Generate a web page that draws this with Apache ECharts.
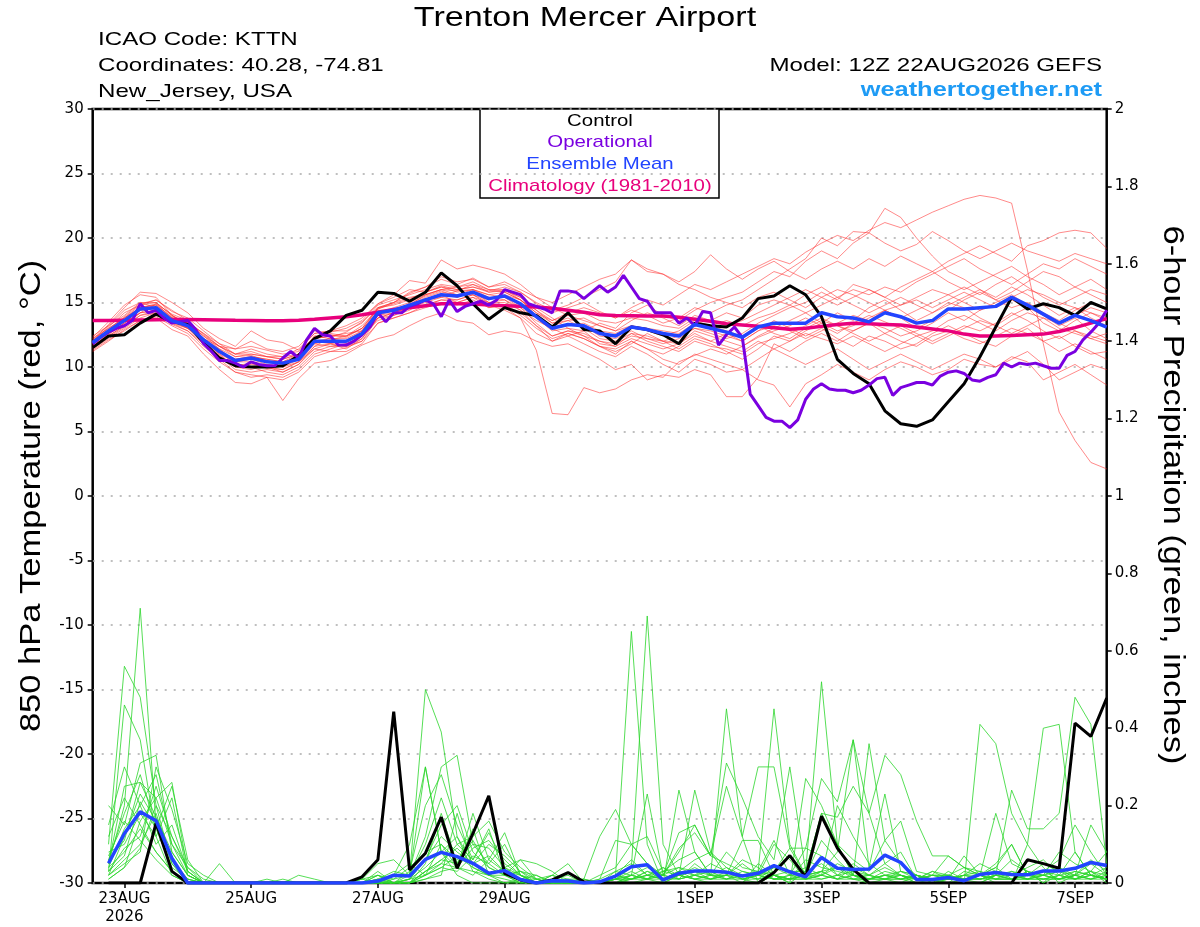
<!DOCTYPE html>
<html>
<head>
<meta charset="utf-8">
<title>Trenton Mercer Airport</title>
<script src="https://cdn.jsdelivr.net/npm/echarts@6/dist/echarts.min.js"></script>
<style>
html, body { margin: 0; padding: 0; background: #fff; }
#chart { width: 1200px; height: 927px; }
</style>
</head>
<body>
<div id="chart"></div>
<script>
// forecast hours from 12Z 22AUG2026
var tickHours = [12, 60, 108, 156, 228, 276, 324, 372];
var tickLabels = ['23AUG\n2026', '25AUG', '27AUG', '29AUG', '1SEP', '3SEP', '5SEP', '7SEP'];

// 850 hPa temperature, 6-hourly from hour 0
var control = [
    11.5, 12.4, 12.5, 13.4, 14.1, 13.5, 13.3, 11.9, 10.7, 10.1, 10.0, 10.0, 10.1,
    10.9, 12.2, 12.8, 14.0, 14.4, 15.8, 15.7, 15.1, 15.8, 17.3, 16.3, 14.9, 13.7,
    14.6, 14.2, 14.0, 13.1, 14.2, 12.9, 12.8, 11.8, 13.1, 12.9, 12.5, 11.8, 13.4,
    13.2, 13.1, 13.8, 15.3, 15.5, 16.3, 15.6, 13.9, 10.6, 9.5, 8.7, 6.6, 5.6,
    5.4, 5.9, 7.3, 8.7, 10.8, 13.1, 15.4, 14.5, 14.9, 14.6, 14.0, 15.0, 14.5
];
var ensMean = [
    11.9, 12.8, 13.6, 14.5, 14.6, 13.6, 13.2, 12.1, 11.2, 10.5, 10.7, 10.4, 10.3,
    10.6, 12.0, 12.0, 12.0, 12.6, 14.2, 14.4, 14.8, 15.2, 15.6, 15.5, 15.8, 15.3,
    15.5, 14.9, 13.9, 13.0, 13.3, 13.2, 12.6, 12.4, 13.1, 12.9, 12.6, 12.4, 13.3,
    13.0, 12.7, 12.3, 13.1, 13.4, 13.4, 13.4, 14.2, 13.9, 13.8, 13.5, 14.2, 13.9,
    13.4, 13.6, 14.5, 14.5, 14.6, 14.7, 15.4, 14.8, 14.1, 13.4, 14.0, 13.6, 13.1
];
var climatology = [
    13.6, 13.6, 13.62, 13.64, 13.66, 13.68, 13.68, 13.67, 13.65, 13.62, 13.6, 13.58, 13.58,
    13.62, 13.7, 13.8, 13.9, 14.05, 14.25, 14.45, 14.6, 14.75, 14.9, 14.9, 14.88, 14.8,
    14.75, 14.7, 14.65, 14.55, 14.4, 14.25, 14.05, 14.0, 13.98, 13.96, 13.95, 13.85, 13.7,
    13.55, 13.35, 13.25, 13.15, 13.05, 12.92, 13.0, 13.15, 13.3, 13.4, 13.35, 13.3, 13.25,
    13.1, 12.95, 12.8, 12.55, 12.4, 12.4, 12.45, 12.5, 12.55, 12.75, 13.05, 13.4, 13.75
];
// operational run, 3-hourly from hour 0
var operational = [
    11.8, 12.3, 12.7, 13.0, 13.2, 13.6, 14.9, 14.2, 14.4, 13.8, 13.4, 13.5, 13.6, 12.9, 11.8, 11.2,
    10.5, 10.5, 10.3, 10.0, 10.4, 10.2, 10.1, 10.1, 10.7, 11.2, 10.7, 12.1, 13.0, 12.5, 12.4, 11.7,
    11.7, 12.0, 12.5, 13.1, 14.2, 13.5, 14.2, 14.2, 14.7, 14.9, 15.2, 14.9, 13.9, 15.2, 14.3, 14.7,
    14.9, 15.1, 14.8, 15.2, 16.0, 15.8, 15.6, 14.9, 14.7, 14.5, 14.2, 15.9, 15.9, 15.8, 15.3, 15.8,
    16.3, 15.8, 16.2, 17.1, 16.2, 15.3, 15.1, 14.2, 14.2, 14.2, 13.4, 13.8, 13.2, 14.3, 14.2, 11.7,
    12.5, 13.1, 12.3, 7.9, 7.0, 6.1, 5.8, 5.8, 5.3, 5.9, 7.5, 8.3, 8.7, 8.3, 8.2, 8.2,
    8.0, 8.2, 8.6, 9.1, 9.2, 7.8, 8.4, 8.6, 8.8, 8.8, 8.6, 9.3, 9.6, 9.7, 9.5, 9.0,
    8.9, 9.2, 9.4, 10.3, 10.0, 10.3, 10.2, 10.3, 10.1, 9.9, 9.9, 10.9, 11.2, 12.1, 12.7, 13.4,
    14.4
];

// 6-hour precipitation (inches), 6-hourly from hour 6
var controlPrecip = [
    0, 0, 0, 0.155, 0.03, 0, 0, 0, 0, 0, 0, 0, 0, 0, 0, 0,
    0.016, 0.06, 0.443, 0.034, 0.077, 0.17, 0.038, 0.128, 0.225, 0.025, 0.008, 0, 0.008, 0.027, 0.003, 0,
    0, 0, 0, 0, 0, 0, 0, 0, 0, 0, 0.027, 0.071, 0.015, 0.173, 0.09, 0.035,
    0, 0, 0, 0, 0, 0, 0, 0, 0, 0, 0.06, 0.05, 0.038, 0.413, 0.379, 0.478
];
var meanPrecip = [
    0.051, 0.128, 0.184, 0.161, 0.064, 0, 0, 0, 0, 0, 0, 0, 0, 0, 0, 0,
    0, 0.005, 0.02, 0.018, 0.061, 0.079, 0.068, 0.051, 0.025, 0.032, 0.009, 0, 0.006, 0.005, 0, 0.003,
    0.018, 0.042, 0.047, 0.008, 0.025, 0.031, 0.031, 0.028, 0.018, 0.025, 0.045, 0.029, 0.016, 0.066, 0.038, 0.035,
    0.036, 0.072, 0.053, 0.009, 0.009, 0.014, 0.006, 0.022, 0.027, 0.022, 0.021, 0.031, 0.031, 0.038, 0.053, 0.045
];

// ensemble members, temperature (6-hourly from hour 0)
var memberTemps = [
    [12.3, 13.5, 14.8, 15.6, 15.4, 14.0, 13.3, 12.0, 10.9, 10.1, 10.3, 9.9, 9.8,
     10.4, 11.6, 12.3, 12.7, 13.5, 14.6, 15.0, 15.7, 16.2, 16.8, 16.4, 16.9, 16.2,
     16.4, 15.8, 14.9, 14.2, 14.6, 15.0, 14.3, 13.8, 14.6, 15.2, 14.8, 15.6, 16.4,
     16.0, 16.6, 17.2, 17.8, 18.4, 18.0, 18.9, 19.6, 20.2, 19.8, 20.6, 21.2, 20.8,
     21.4, 22.0, 22.5, 23.0, 23.3, 23.1, 22.7, 17.5, 11.8, 6.5, 4.3, 2.6, 2.1],
    [11.6, 12.5, 13.4, 14.2, 14.9, 14.1, 13.6, 12.5, 11.6, 11.0, 11.2, 10.8, 10.6,
     11.0, 12.4, 12.5, 12.3, 13.0, 14.5, 14.9, 15.3, 15.8, 16.2, 15.8, 16.0, 15.4,
     15.2, 14.4, 13.6, 13.0, 12.4, 12.8, 13.4, 13.0, 14.2, 14.8, 14.0, 13.6, 14.4,
     15.0, 15.4, 15.8, 16.6, 17.4, 17.0, 18.2, 19.0, 18.4, 19.6, 20.4, 22.3, 21.6,
     20.0, 18.6, 17.4, 16.8, 16.0, 15.2, 15.8, 16.6, 17.4, 17.0, 16.2, 15.6, 15.0],
    [11.4, 12.2, 13.0, 13.8, 14.2, 13.5, 13.0, 12.2, 11.4, 10.8, 10.9, 10.5, 10.2,
     10.8, 11.8, 12.1, 12.4, 13.0, 14.0, 14.4, 14.9, 15.5, 15.9, 15.4, 15.9, 15.0,
     14.6, 13.8, 11.3, 6.4, 6.3, 8.4, 8.0, 8.3, 9.0, 9.4, 9.2, 10.4, 10.9,
     11.4, 11.0, 11.6, 12.3, 12.8, 13.2, 13.8, 13.2, 12.6, 13.4, 14.0, 13.5, 13.0,
     12.4, 12.8, 13.6, 14.0, 13.4, 12.8, 13.6, 14.2, 13.8, 13.0, 12.6, 12.2, 11.8],
    [11.2, 12.0, 12.9, 13.6, 13.9, 13.2, 12.6, 11.4, 10.4, 9.6, 9.4, 9.2, 9.0,
     9.6, 10.8, 11.2, 11.5, 12.0, 13.4, 13.8, 14.2, 14.6, 15.0, 14.8, 15.2, 14.6,
     14.8, 14.2, 13.2, 12.0, 12.4, 11.8, 11.2, 10.8, 11.6, 11.0, 10.2, 9.6, 10.6,
     10.2, 9.6, 9.8, 9.0, 8.6, 6.9, 8.7, 9.4, 10.2, 9.6, 9.0, 9.8, 10.4,
     10.0, 9.4, 9.8, 10.6, 10.2, 10.0, 10.8, 10.4, 9.0, 9.6, 10.2, 9.4, 8.6],
    [12.0, 13.3, 14.6, 15.8, 15.7, 15.0, 14.2, 13.0, 12.2, 11.6, 12.8, 12.1, 11.9,
     11.3, 12.6, 12.8, 13.2, 13.8, 14.9, 15.6, 16.7, 16.5, 18.3, 17.6, 17.9, 17.6,
     17.2, 16.4, 15.4, 14.6, 14.0, 13.6, 13.2, 12.8, 13.6, 14.2, 13.8, 13.2, 14.0,
     13.6, 14.2, 13.8, 14.8, 15.2, 14.8, 15.6, 16.2, 15.4, 16.0, 15.6, 16.2, 15.8,
     16.6, 17.2, 17.8, 18.4, 17.6, 17.0, 16.4, 17.2, 18.0, 17.6, 18.4, 17.8, 17.2],
    [11.8, 12.9, 13.9, 14.9, 15.2, 14.4, 13.6, 12.2, 11.0, 10.0, 9.8, 10.2, 10.0,
     10.4, 11.4, 11.8, 11.6, 12.2, 13.8, 14.2, 14.6, 15.0, 15.4, 15.9, 16.4, 15.8,
     15.9, 15.4, 14.6, 13.8, 13.0, 12.4, 11.6, 11.2, 11.8, 12.6, 12.0, 11.4, 12.2,
     11.8, 11.2, 10.6, 11.4, 12.4, 12.0, 12.8, 13.4, 14.2, 13.6, 14.6, 15.2, 14.4,
     13.6, 14.2, 15.0, 14.6, 13.8, 13.2, 14.0, 14.6, 13.4, 12.8, 13.6, 14.2, 13.6],
    [12.1, 13.0, 13.8, 14.6, 14.8, 13.9, 13.5, 12.6, 11.8, 11.4, 11.6, 11.3, 11.0,
     11.2, 12.3, 12.7, 13.0, 13.6, 14.9, 15.4, 16.0, 15.8, 16.3, 16.0, 16.2, 15.9,
     16.2, 15.8, 15.0, 14.4, 14.8, 15.4, 16.0, 16.6, 18.3, 17.4, 17.2, 16.6, 17.4,
     18.7, 17.6, 16.8, 17.6, 18.2, 17.4, 16.8, 17.6, 18.2, 17.6, 18.4, 17.8, 18.6,
     18.0, 17.4, 18.2, 18.8, 19.4, 18.8, 18.2, 19.4, 19.8, 20.4, 20.6, 20.4, 19.2],
    [11.5, 12.4, 13.2, 14.0, 14.2, 13.3, 12.8, 11.6, 10.6, 9.6, 9.2, 9.4, 9.2,
     9.8, 11.0, 11.4, 11.8, 12.4, 13.6, 14.0, 14.4, 15.2, 15.4, 15.2, 15.6, 14.8,
     14.4, 13.8, 12.6, 12.0, 12.6, 12.2, 11.6, 11.0, 12.0, 11.4, 11.0, 11.6, 12.4,
     12.0, 12.6, 12.0, 12.8, 13.6, 13.0, 12.4, 13.0, 12.2, 11.6, 12.4, 12.0, 11.4,
     11.8, 12.6, 13.2, 12.6, 12.0, 11.6, 12.4, 13.0, 12.0, 11.2, 11.8, 11.2, 10.6],
    [12.4, 13.2, 14.0, 15.0, 15.0, 14.0, 13.2, 12.0, 11.2, 10.6, 10.8, 10.6, 10.4,
     11.0, 12.2, 12.4, 12.6, 12.8, 14.4, 14.4, 14.8, 15.6, 16.0, 16.2, 16.6, 16.0,
     16.0, 15.2, 14.4, 13.4, 13.8, 13.2, 12.4, 12.2, 12.8, 12.2, 12.0, 12.4, 13.0,
     12.6, 12.2, 12.6, 13.4, 14.0, 14.6, 15.0, 15.8, 15.2, 16.4, 16.0, 15.4, 16.2,
     16.8, 17.4, 16.6, 16.0, 16.6, 17.2, 17.8, 17.0, 16.4, 15.6, 16.2, 16.8, 16.0],
    [11.3, 12.1, 12.8, 13.6, 13.8, 12.9, 12.4, 11.0, 9.8, 8.8, 8.7, 9.2, 7.4,
     9.1, 10.3, 10.5, 11.0, 11.7, 12.2, 12.5, 13.2, 13.8, 14.2, 13.6, 13.4, 12.5,
     12.8, 12.6, 12.0, 11.6, 11.8, 11.2, 10.6, 9.8, 10.2, 9.0, 9.4, 9.2, 9.8,
     9.4, 7.7, 7.7, 9.2, 11.8, 11.2, 12.0, 12.6, 12.0, 12.8, 13.4, 12.6, 12.0,
     11.6, 12.4, 12.8, 12.2, 11.8, 12.4, 13.0, 12.6, 12.0, 12.4, 11.6, 11.0, 11.2],
    [12.0, 13.1, 14.2, 14.8, 15.2, 14.3, 13.8, 12.8, 11.8, 11.0, 11.0, 10.8, 10.8,
     11.0, 12.4, 12.2, 12.0, 12.8, 14.6, 15.0, 15.4, 15.6, 16.0, 15.9, 16.0, 15.6,
     15.4, 14.8, 13.8, 12.8, 13.0, 12.8, 11.8, 11.6, 12.6, 12.0, 11.6, 11.2, 12.0,
     11.6, 11.4, 11.0, 11.8, 12.2, 12.6, 13.2, 13.8, 13.2, 12.8, 13.4, 13.0, 12.4,
     12.8, 13.4, 14.2, 13.6, 14.4, 15.0, 15.6, 14.8, 14.0, 13.2, 13.8, 12.8, 12.2],
    [11.7, 12.7, 13.6, 14.6, 14.9, 13.8, 13.4, 12.4, 11.4, 10.4, 10.6, 10.2, 10.0,
     10.6, 12.0, 11.8, 11.4, 12.2, 14.0, 14.2, 14.6, 14.8, 15.2, 15.2, 15.6, 15.2,
     15.6, 15.2, 14.2, 13.4, 13.6, 13.8, 13.2, 12.8, 13.2, 12.8, 12.4, 12.8, 13.6,
     13.2, 12.8, 12.4, 13.2, 12.6, 12.2, 13.0, 13.6, 13.2, 12.6, 12.0, 12.6, 13.2,
     12.6, 12.0, 12.6, 13.2, 12.8, 13.4, 14.2, 13.6, 12.8, 12.2, 12.8, 12.4, 12.0],
    [12.2, 13.2, 14.4, 15.0, 14.6, 13.6, 13.0, 12.2, 11.6, 11.4, 12.0, 11.4, 11.2,
     11.6, 12.8, 12.6, 12.4, 13.2, 14.5, 15.0, 15.8, 16.2, 17.0, 16.6, 16.8, 16.2,
     16.6, 16.0, 15.4, 15.0, 15.6, 16.2, 16.8, 17.2, 18.3, 17.6, 17.2, 16.4, 16.0,
     15.4, 15.0, 14.6, 15.4, 15.8, 15.2, 14.6, 15.4, 16.0, 15.6, 15.0, 14.4, 14.8,
     15.4, 16.0, 15.6, 15.0, 14.4, 14.8, 15.4, 16.0, 15.6, 15.0, 14.6, 14.2, 13.8],
    [11.6, 12.6, 13.4, 14.2, 14.4, 13.4, 13.0, 12.0, 11.0, 10.4, 10.4, 10.0, 9.8,
     10.4, 11.8, 11.6, 11.6, 12.0, 13.8, 14.0, 14.6, 15.2, 15.6, 15.0, 15.4, 14.6,
     14.8, 14.0, 13.0, 12.2, 12.6, 12.2, 11.6, 11.4, 12.0, 11.4, 10.6, 10.2, 11.0,
     10.6, 10.2, 9.8, 10.6, 11.4, 12.0, 12.6, 12.2, 11.8, 12.4, 11.8, 11.2, 11.8,
     12.4, 11.8, 12.4, 13.0, 13.6, 13.2, 12.6, 13.2, 13.8, 13.4, 12.8, 12.2, 12.6],
    [12.0, 12.8, 13.6, 14.4, 14.6, 13.8, 13.4, 12.6, 11.6, 11.0, 11.4, 11.0, 10.8,
     11.4, 12.6, 12.8, 12.8, 13.4, 14.8, 15.2, 15.6, 16.0, 16.4, 16.2, 16.4, 16.0,
     15.8, 15.2, 14.2, 13.6, 14.2, 14.6, 14.2, 13.8, 14.4, 14.0, 13.4, 13.8, 14.6,
     14.2, 14.8, 15.2, 16.0, 16.8, 17.6, 18.4, 20.0, 19.4, 20.5, 20.4, 19.6, 19.0,
     19.5, 20.5, 19.8, 19.0, 18.4, 19.0, 19.6, 19.0, 18.6, 18.2, 18.8, 18.4, 18.0],
    [11.9, 12.8, 13.8, 14.8, 15.0, 14.0, 13.4, 12.2, 11.2, 10.2, 10.0, 9.6, 9.4,
     10.0, 11.2, 11.6, 11.8, 12.4, 13.8, 14.2, 14.8, 15.4, 15.8, 15.6, 16.0, 15.6,
     15.8, 15.2, 14.0, 13.2, 13.6, 13.0, 12.2, 12.0, 12.6, 12.4, 12.0, 11.8, 12.8,
     12.4, 12.0, 11.6, 12.4, 13.0, 13.6, 14.2, 13.4, 12.8, 13.2, 13.8, 14.4, 13.8,
     13.0, 13.6, 14.4, 15.2, 15.8, 15.2, 14.6, 15.0, 14.2, 13.6, 14.4, 15.0, 14.4],
    [11.5, 12.3, 13.1, 14.0, 14.4, 13.6, 13.0, 11.8, 10.8, 10.0, 10.2, 10.0, 9.6,
     10.2, 11.6, 11.8, 12.0, 12.6, 14.2, 14.6, 15.0, 15.6, 16.0, 15.6, 15.6, 15.0,
     15.2, 14.6, 13.4, 12.4, 12.8, 12.6, 12.0, 11.8, 12.4, 12.2, 11.8, 12.2, 13.0,
     12.8, 12.4, 12.0, 12.8, 13.2, 12.8, 12.2, 12.8, 13.4, 14.0, 13.6, 14.4, 13.8,
     14.4, 15.0, 15.6, 16.2, 15.6, 16.4, 17.0, 16.2, 15.4, 14.8, 15.4, 16.0, 15.6],
    [11.8, 12.6, 13.4, 14.4, 14.6, 13.6, 13.2, 12.2, 11.2, 10.6, 10.8, 10.6, 10.4,
     10.8, 12.0, 12.2, 12.2, 12.8, 14.2, 14.4, 14.8, 15.2, 15.6, 15.4, 15.8, 15.4,
     15.4, 14.6, 13.8, 13.0, 13.2, 13.4, 12.8, 12.6, 13.2, 13.0, 12.8, 12.6, 13.4,
     13.2, 13.6, 13.2, 13.8, 14.2, 14.8, 14.2, 14.8, 15.4, 14.8, 14.2, 14.8, 15.4,
     14.8, 14.2, 14.8, 15.4, 16.0, 15.4, 16.2, 15.6, 14.8, 14.0, 14.6, 13.8, 13.2],
    [11.6, 12.4, 13.2, 14.2, 14.4, 13.4, 12.8, 11.8, 10.8, 9.8, 9.6, 9.8, 9.6,
     10.2, 11.4, 11.2, 11.2, 11.8, 13.4, 13.8, 14.2, 14.8, 15.2, 15.0, 15.4, 15.0,
     15.0, 14.4, 13.2, 12.4, 12.8, 12.4, 12.0, 11.6, 12.2, 11.8, 11.4, 11.8, 12.6,
     12.0, 11.6, 11.2, 12.0, 11.4, 10.8, 10.2, 10.8, 11.4, 10.6, 9.8, 10.4, 11.0,
     10.4, 9.8, 10.4, 11.0, 10.6, 10.0, 10.6, 11.2, 10.2, 9.0, 9.6, 10.2, 9.8],
    [12.2, 13.0, 13.8, 14.6, 14.8, 13.8, 13.4, 12.4, 11.6, 10.8, 11.0, 10.8, 10.6,
     11.0, 12.2, 12.4, 12.4, 13.0, 14.6, 14.8, 15.2, 15.8, 16.2, 16.0, 16.2, 15.8,
     16.0, 15.4, 14.4, 13.6, 14.0, 14.2, 13.6, 13.4, 13.8, 13.6, 13.2, 13.0, 13.8,
     13.6, 13.2, 13.6, 14.2, 14.8, 15.4, 16.0, 15.4, 14.8, 15.4, 16.0, 15.4, 14.8,
     15.2, 14.6, 15.2, 15.8, 15.2, 14.6, 15.2, 14.6, 14.0, 13.4, 14.0, 14.6, 14.2]
];

// ensemble members, 6-hour precipitation (6-hourly from hour 6)
var memberPrecip = [
    [.05, .20, .71, .15, .03, 0, 0, 0, 0, 0, 0, 0, 0, 0, 0, 0,
     0, 0, .02, .10, .30, .08, .02, 0, 0, 0, .01, 0, 0, 0, 0, 0,
     .02, .65, .10, 0, .02, .01, 0, 0, 0, .05, .02, 0, .03, .52, .10, .02,
     0, 0, 0, 0, 0, 0, 0, .41, .36, .18, .10, .04, 0, .02, .05, .02],
    [.10, .56, .48, .20, .05, .01, 0, 0, 0, 0, 0, 0, 0, 0, 0, 0,
     0, .01, .03, .02, .50, .39, .12, .05, .02, 0, 0, 0, .01, .02, 0, 0,
     .01, .04, .69, .10, .02, .24, .08, .02, 0, .03, .45, .10, .02, .03, .08, .37,
     .18, .05, .02, 0, 0, .01, .07, .02, 0, 0, .10, .40, .41, .08, .02, .01],
    [.03, .46, .37, .12, .02, 0, 0, 0, 0, 0, 0, 0, 0, 0, 0, 0,
     .01, .05, .06, .02, .12, .30, .33, .10, .05, .02, .06, .01, 0, 0, .01, .12,
     .19, .10, .05, 0, .24, .08, .02, .45, .12, 0, .02, 0, .27, .20, .10, .02,
     .36, .11, .05, .02, 0, 0, 0, 0, .02, .24, .14, .14, .18, .48, .41, .05],
    [.20, .15, .31, .33, .08, .02, 0, .05, 0, 0, 0, 0, 0, 0, 0, 0,
     0, .02, 0, .02, .30, .08, .04, .18, .06, .13, .02, 0, .02, .05, 0, 0,
     .03, .02, .23, .02, .13, .15, .07, .31, .22, .12, .06, .30, .03, .18, .17, .25,
     .18, .33, .28, .16, .07, .07, .04, .02, .04, .10, .02, .02, .08, .05, .03, 0],
    [.05, .25, .26, .22, .26, .03, 0, 0, 0, 0, .01, 0, 0, 0, 0, 0,
     0, .01, 0, 0, .05, .18, .05, .14, .02, .04, .06, .05, .03, 0, 0, .01,
     .11, .10, .05, .02, .08, .15, .07, .25, .12, .30, .30, .09, .09, .27, .21, .37,
     .04, .23, .03, .02, .01, 0, .03, .02, .18, .05, .03, 0, .04, .02, .15, .08],
    [.15, .30, .20, .28, .10, .04, 0, 0, 0, 0, 0, 0, .02, .01, 0, 0,
     0, .03, 0, .03, .20, .28, .15, .06, .14, .02, .03, .02, 0, 0, 0, .02,
     .04, .10, .12, .03, .06, .08, .02, .02, .11, .11, .02, .03, .03, .18, .10, .06,
     .03, .11, .16, .03, .02, .02, .04, .02, .05, .10, .02, .03, .06, .15, .08, .02],
    [.02, .12, .23, .16, .05, 0, 0, 0, 0, 0, 0, 0, 0, 0, 0, 0,
     0, 0, .01, .02, .10, .22, .10, .06, .13, .05, .02, 0, .02, .01, .01, 0,
     0, .02, .04, .02, .09, .13, .07, .05, .03, .02, .10, .06, .01, .02, .20, .12,
     .05, .02, .03, .01, .02, .07, .04, .03, .02, .06, .03, 0, .02, .08, .02, .01],
    [.08, .10, .18, .12, .22, .02, 0, 0, 0, 0, 0, 0, 0, 0, 0, 0,
     0, 0, 0, .01, .06, .15, .20, .08, .04, .02, 0, .01, 0, 0, 0, 0,
     .02, .06, .02, .03, .04, .03, .02, .08, .04, .03, .11, .02, .09, .07, .02, .05,
     .02, .05, .08, .01, .02, .02, .01, 0, .02, .03, .02, .03, .02, .01, .03, .08],
    [.04, .08, .14, .08, .03, 0, 0, 0, 0, 0, 0, 0, 0, 0, 0, 0,
     .01, .02, 0, 0, .03, .05, .10, .12, .16, .08, .04, .01, 0, 0, .01, 0,
     .01, .03, .01, 0, .02, .04, .02, .02, .05, .02, .03, .09, .02, .03, .04, .02,
     .02, .04, .02, 0, 0, .03, .01, .02, .03, .02, .01, .02, .03, .02, .06, .03],
    [.06, .18, .28, .14, .04, .01, 0, 0, 0, 0, 0, 0, 0, 0, 0, 0,
     0, .02, .01, .04, .08, .10, .06, .10, .09, .04, .02, .01, .02, 0, 0, 0,
     .02, .01, .03, .01, .03, .06, .08, .04, .02, .01, .04, .02, .02, .11, .06, .02,
     .01, .03, .02, .01, .03, .01, .02, .05, .03, .02, .04, .06, .02, .03, .02, .01],
    [.02, .06, .10, .18, .06, .01, 0, 0, 0, 0, 0, 0, 0, 0, 0, 0,
     0, 0, 0, .01, .04, .08, .12, .03, .01, 0, 0, 0, 0, 0, 0, 0,
     0, .01, .02, .04, .01, .02, .05, .03, .01, 0, .02, .01, .03, .05, .02, .01,
     0, .01, .03, .02, 0, .01, .02, .03, .01, .01, .02, .05, .03, .01, .02, .04],
    [.01, .04, .16, .22, .10, .02, 0, 0, 0, 0, 0, .01, 0, 0, 0, 0,
     0, 0, 0, 0, .02, .05, .04, .09, .11, .06, .02, 0, 0, 0, 0, 0,
     .01, 0, .01, .02, .04, .02, .01, .02, .06, .04, .01, .02, .04, .02, .05, .03,
     .02, .01, 0, .02, .01, 0, .01, .02, .04, .01, .02, .01, .01, .03, .02, .01],
    [.03, .09, .12, .25, .12, .04, .01, 0, 0, 0, 0, 0, 0, 0, 0, 0,
     0, 0, .02, .05, .02, .04, .07, .04, .02, .01, 0, 0, 0, 0, 0, .01,
     .03, .05, .02, .01, .03, .01, .02, .01, .03, .02, .04, .03, .01, .03, .01, .02,
     .01, .02, .01, 0, .01, .02, .01, .01, .02, .02, .01, .03, .01, .02, .01, .02],
    [.04, .14, .20, .10, .15, .03, 0, 0, 0, 0, 0, 0, 0, 0, 0, 0,
     0, .01, 0, 0, .03, .06, .05, .11, .04, .02, .03, 0, 0, 0, 0, 0,
     0, .01, .03, .02, .01, .05, .02, .04, .01, .02, .01, .01, .06, .04, .03, .02,
     .01, .02, .02, .01, .01, .01, .02, .01, .02, .01, .03, .02, .04, .01, .03, .02],
    [.12, .22, .15, .08, .03, 0, 0, 0, 0, 0, 0, 0, 0, 0, 0, 0,
     .01, 0, 0, .01, .06, .12, .08, .05, .10, .07, .03, .01, 0, 0, 0, 0,
     0, .02, .01, .04, .02, .03, .01, .02, .02, .03, .02, .01, .02, .03, .01, .04,
     .02, .01, .02, .01, .03, .02, .01, .02, .01, .03, .01, .02, .01, .02, .01, .03],
    [.02, .05, .08, .30, .19, .05, .02, 0, 0, 0, 0, 0, 0, 0, 0, 0,
     0, 0, 0, 0, .01, .03, .04, .02, .06, .03, .01, .02, 0, 0, 0, 0,
     .01, .01, .02, .01, .01, .02, .03, .01, .02, .01, .02, .01, .01, .02, .04, .01,
     .01, .02, .01, .02, .01, .01, .02, .01, .01, .02, .01, .01, .02, .01, .02, .01],
    [.06, .11, .26, .17, .08, .02, 0, 0, 0, 0, 0, 0, 0, 0, 0, 0,
     0, 0, 0, 0, .01, .02, .18, .04, .02, .04, .01, 0, 0, 0, 0, 0,
     .01, .02, .01, .03, .02, .01, .01, .03, .01, .02, .01, .02, .01, .01, .02, .03,
     .01, .01, .02, .01, .02, .01, .01, .01, .02, .01, .03, .02, .01, .02, .01, .02],
    [.03, .07, .21, .14, .25, .06, 0, 0, 0, 0, 0, 0, 0, 0, 0, 0,
     0, 0, 0, .01, .02, .10, .04, .03, .02, .02, 0, 0, 0, 0, 0, 0,
     .02, .01, .02, .01, .03, .02, .01, .01, .02, .03, .01, .01, .02, .02, .01, .01,
     .02, .01, .01, .02, .01, .01, .02, .02, .01, .01, .02, .01, .01, .02, .03, .01],
    [.07, .16, .11, .06, .02, 0, 0, 0, 0, 0, 0, 0, 0, 0, 0, 0,
     0, 0, 0, 0, .03, .06, .09, .05, .07, .03, .02, 0, 0, .01, 0, 0,
     .01, .02, .01, .01, .02, .01, .02, .01, .01, .02, .01, .01, .02, .01, .02, .01,
     .01, .01, .01, .02, .01, .01, .01, .02, .01, .01, .01, .02, .01, .01, .02, .01],
    [.01, .04, .09, .20, .12, .03, 0, 0, 0, 0, 0, 0, 0, 0, 0, 0,
     0, 0, 0, 0, .02, .04, .03, .07, .05, .10, .02, 0, 0, 0, 0, 0,
     .01, .01, .01, .02, .01, .02, .01, .02, .01, .01, .02, .01, .01, .02, .01, .02,
     .01, .02, .01, .01, .02, .01, .01, .01, .02, .01, .01, .01, .02, .01, .01, .01]
];

var FONT = 'DejaVu Sans';
var HEAD_FONT = 'Liberation Sans';

function toPoints(values, step, start) {
    return values.map(function (v, i) {
        return [start + i * step, v];
    });
}

function lineSeries(data, axis, color, width) {
    return {
        type: 'line',
        data: data,
        yAxisIndex: axis,
        symbol: 'none',
        silent: true,
        animation: false,
        lineStyle: { color: color, width: width }
    };
}

// the original lettering is a wide Helvetica, so stretch it a little
function headerText(text, x, y, align, size, stretch, color, weight, rotation) {
    return {
        type: 'text',
        x: x,
        y: y,
        z: 100,
        scaleX: stretch,
        rotation: rotation || 0,
        style: {
            text: text,
            fontFamily: HEAD_FONT,
            fontSize: size,
            fontWeight: weight || 'normal',
            fill: color || '#000',
            align: align,
            verticalAlign: 'middle',
            textAlign: align,
            textVerticalAlign: 'middle'
        }
    };
}

var series = [];
memberTemps.forEach(function (m) {
    series.push(lineSeries(toPoints(m, 6, 0), 0, 'rgba(255,45,45,0.7)', 0.8));
});
memberPrecip.forEach(function (m) {
    series.push(lineSeries(toPoints(m, 6, 6), 1, '#2bd62b', 0.8));
});
series.push(lineSeries(toPoints(climatology, 6, 0), 0, '#e8007c', 3.5));
series.push(lineSeries(toPoints(control, 6, 0), 0, '#000000', 3));
series.push(lineSeries(toPoints(operational, 3, 0), 0, '#7a00e0', 3));
series.push(lineSeries(toPoints(ensMean, 6, 0), 0, '#2244ff', 3.5));
series.push(lineSeries(toPoints(controlPrecip, 6, 6), 1, '#000000', 3));
series.push(lineSeries(toPoints(meanPrecip, 6, 6), 1, '#2244ff', 3.5));

var legendBox = {
    type: 'group',
    z: 100,
    children: [
        {
            type: 'rect',
            shape: { x: 480, y: 109, width: 239, height: 89 },
            style: { fill: '#fff', stroke: '#000', lineWidth: 1.5 }
        },
        headerText('Control', 600, 121, 'center', 17, 1.2, '#000'),
        headerText('Operational', 600, 142, 'center', 17, 1.2, '#7a00e0'),
        headerText('Ensemble Mean', 600, 164, 'center', 17, 1.2, '#2244ff'),
        headerText('Climatology (1981-2010)', 600, 186, 'center', 17, 1.2, '#e8007c')
    ]
};

var chart = echarts.init(document.getElementById('chart'), null, { renderer: 'canvas' });

chart.setOption({
    animation: false,
    backgroundColor: '#fff',
    grid: {
        left: 92.7,
        right: 93.3,
        top: 109,
        bottom: 44,
        show: true,
        borderColor: '#000',
        borderWidth: 2.5,
        backgroundColor: 'transparent'
    },
    xAxis: {
        type: 'value',
        min: 0,
        max: 384,
        axisLine: { show: false, onZero: false },
        splitLine: { show: false },
        axisTick: {
            show: true,
            customValues: tickHours,
            length: 5,
            lineStyle: { color: '#000', width: 1.5 }
        },
        axisLabel: {
            customValues: tickHours,
            margin: 7,
            fontFamily: FONT,
            fontSize: 15,
            lineHeight: 18,
            color: '#000',
            formatter: function (v) {
                var k = tickHours.indexOf(v);
                return k < 0 ? '' : tickLabels[k];
            }
        }
    },
    yAxis: [
        {
            type: 'value',
            position: 'left',
            min: -30,
            max: 30,
            interval: 5,
            axisLine: { show: false },
            axisTick: { show: true, length: 5, lineStyle: { color: '#000', width: 1.5 } },
            axisLabel: { margin: 9, fontFamily: FONT, fontSize: 15, color: '#000' },
            splitLine: { show: true, lineStyle: { color: '#aaaaaa', width: 1.5, type: [2, 7] } }
        },
        {
            type: 'value',
            position: 'right',
            min: 0,
            max: 2,
            interval: 0.2,
            axisLine: { show: false },
            axisTick: { show: true, length: 5, lineStyle: { color: '#000', width: 1.5 } },
            axisLabel: {
                margin: 8,
                fontFamily: FONT,
                fontSize: 15,
                color: '#000',
                formatter: function (v) { return String(+v.toFixed(1)); }
            },
            splitLine: { show: false }
        }
    ],
    graphic: [
        headerText('Trenton Mercer Airport', 585, 18, 'center', 28, 1.22),
        headerText('ICAO Code: KTTN', 98, 40, 'left', 19, 1.27),
        headerText('Coordinates: 40.28, -74.81', 98, 66, 'left', 19, 1.27),
        headerText('New_Jersey, USA', 98, 92, 'left', 19, 1.27),
        headerText('Model: 12Z 22AUG2026 GEFS', 1102, 66, 'right', 19, 1.27),
        headerText('weathertogether.net', 1102, 90, 'right', 20, 1.27, '#1e9bf5', 'bold'),
        legendBox,
        headerText('850 hPa Temperature (red, °C)', 32, 496, 'center', 29, 1.19, '#000', 'normal', Math.PI / 2),
        headerText('6-hour Precipitation (green, inches)', 1172, 495, 'center', 29, 1.19, '#000', 'normal', -Math.PI / 2)
    ],
    series: series
});
</script>
</body>
</html>
